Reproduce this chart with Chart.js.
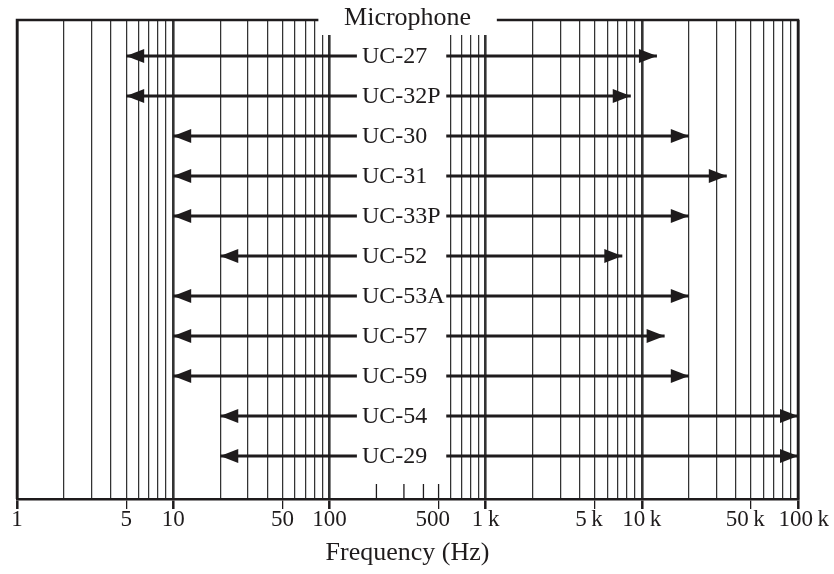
<!DOCTYPE html>
<html>
<head>
<meta charset="utf-8">
<script src="https://cdn.jsdelivr.net/npm/chart.js@4.4.1/dist/chart.umd.min.js"></script>
<style>
  html, body { margin: 0; padding: 0; background: #fff; }
  #wrap { width: 834px; height: 574px; }
</style>
</head>
<body>
<div id="wrap"><canvas id="micChart" width="834" height="574"></canvas></div>
<script>
// Microphone frequency ranges (Hz)
const micNames = ['UC-27', 'UC-32P', 'UC-30', 'UC-31', 'UC-33P', 'UC-52', 'UC-53A', 'UC-57', 'UC-59', 'UC-54', 'UC-29'];
const lowFreq  = [5, 5, 10, 10, 10, 20, 10, 10, 10, 20, 20];
const highFreq = [12500, 8500, 20000, 35000, 20000, 7500, 20000, 14000, 20000, 100000, 100000];

// Axis ticks
const gridValues = [];
[1, 10, 100, 1000, 10000].forEach(function (d) {
    for (let m = 1; m < 10; m++) gridValues.push(m * d);
});
gridValues.push(100000);
const labelValues = [1, 5, 10, 50, 100, 500, 1000, 5000, 10000, 50000, 100000];
// en spaces nudge a few labels off-centre like the original
const labelTexts  = ['1', '5', '10', '50', '100', '500\u2002', '1\u2009k', '5\u2009k\u2002', '10\u2009k', '50\u2009k\u2002', '\u2002100\u2009k'];
const shortTickValues = [200, 300, 400, 500]; // only short inner ticks here
const decadeValues = [1, 10, 100, 1000, 10000, 100000];

const ink = '#1e1b1c';
const serif = "'Liberation Serif', 'DejaVu Serif', serif";

function isDecade(v) { return decadeValues.indexOf(v) >= 0; }

// arrows, label boxes, frame and header
const micPlugin = {
    id: 'micPlugin',
    afterDatasetsDraw: function (chart) {
        const ctx = chart.ctx;
        const xs = chart.scales.x;
        const ys = chart.scales.y;
        const area = chart.chartArea;
        ctx.save();

        // short inner ticks in the label band
        ctx.strokeStyle = ink;
        ctx.lineWidth = 1.3;
        shortTickValues.forEach(function (v) {
            const px = xs.getPixelForValue(v);
            ctx.beginPath();
            ctx.moveTo(px, area.bottom);
            ctx.lineTo(px, area.bottom - 15);
            ctx.stroke();
        });

        // arrowheads
        ctx.fillStyle = ink;
        micNames.forEach(function (name, i) {
            const py = ys.getPixelForValue(i);
            const xl = xs.getPixelForValue(lowFreq[i]);
            const xh = xs.getPixelForValue(highFreq[i]);
            ctx.beginPath();
            ctx.moveTo(xl, py);
            ctx.lineTo(xl + 18, py - 7);
            ctx.lineTo(xl + 18, py + 7);
            ctx.closePath();
            ctx.fill();
            ctx.beginPath();
            ctx.moveTo(xh, py);
            ctx.lineTo(xh - 18, py - 7);
            ctx.lineTo(xh - 18, py + 7);
            ctx.closePath();
            ctx.fill();
        });

        // frame (left, top, right)
        ctx.strokeStyle = ink;
        ctx.lineWidth = 2.5;
        ctx.beginPath();
        ctx.moveTo(area.left, area.bottom);
        ctx.lineTo(area.left, area.top);
        ctx.lineTo(area.right, area.top);
        ctx.lineTo(area.right, area.bottom);
        ctx.stroke();

        // label band: break each arrow and write the name
        const gapL = xs.getPixelForValue(150);
        const gapR = xs.getPixelForValue(560);
        ctx.font = '24px ' + serif;
        ctx.textAlign = 'left';
        ctx.textBaseline = 'middle';
        micNames.forEach(function (name, i) {
            const py = ys.getPixelForValue(i);
            ctx.fillStyle = '#fff';
            ctx.fillRect(gapL, py - 5, gapR - gapL, 10);
            ctx.fillStyle = ink;
            ctx.fillText(name, gapL + 5, py + 1);
        });

        // header box
        const hl = xs.getPixelForValue(85);
        const hr = xs.getPixelForValue(1180);
        ctx.fillStyle = '#fff';
        ctx.fillRect(hl, 0, hr - hl, area.top + 15);
        ctx.fillStyle = ink;
        ctx.font = '26px ' + serif;
        ctx.textAlign = 'center';
        ctx.fillText('Microphone', (hl + hr) / 2, 18);

        ctx.restore();
    }
};

const datasets = micNames.map(function (name, i) {
    return {
        label: name,
        data: [{ x: lowFreq[i], y: i }, { x: highFreq[i], y: i }],
        borderColor: ink,
        borderWidth: 2.8,
        borderCapStyle: 'butt',
        pointRadius: 0,
        fill: false
    };
});

const ctx = document.getElementById('micChart').getContext('2d');
new Chart(ctx, {
    type: 'line',
    data: { datasets: datasets },
    plugins: [micPlugin],
    options: {
        responsive: false,
        animation: false,
        events: [],
        layout: { padding: { left: 17, right: 36, top: 20, bottom: 0 } },
        plugins: {
            legend: { display: false },
            tooltip: { enabled: false }
        },
        scales: {
            x: {
                type: 'logarithmic',
                min: 1,
                max: 100000,
                afterBuildTicks: function (scale) {
                    scale.ticks = gridValues.map(function (v) { return { value: v }; });
                },
                afterFit: function (scale) { scale.height = 75; },
                border: { display: true, color: ink, width: 2.5 },
                grid: {
                    drawOnChartArea: true,
                    color: function (c) {
                        const v = c.tick ? c.tick.value : 0;
                        return shortTickValues.indexOf(v) >= 0 ? 'rgba(0,0,0,0)' : '#333';
                    },
                    lineWidth: function (c) {
                        return c.tick && isDecade(c.tick.value) ? 2.6 : 1.25;
                    },
                    tickColor: function (c) {
                        return c.tick && labelValues.indexOf(c.tick.value) >= 0 ? ink : 'rgba(0,0,0,0)';
                    },
                    tickWidth: function (c) {
                        return c.tick && isDecade(c.tick.value) ? 2.5 : 1.3;
                    },
                    tickLength: 10
                },
                ticks: {
                    autoSkip: false,
                    maxRotation: 0,
                    padding: -3,
                    color: ink,
                    font: { family: serif, size: 23 },
                    callback: function (value) {
                        const k = labelValues.indexOf(value);
                        return k >= 0 ? labelTexts[k] : '';
                    }
                },
                title: {
                    display: true,
                    text: 'Frequency (Hz)',
                    color: ink,
                    font: { family: serif, size: 26 },
                    padding: { top: 0, bottom: 5 }
                }
            },
            y: {
                type: 'linear',
                display: false,
                reverse: true,
                min: -0.9,
                max: 11.075
            }
        }
    }
});
</script>
</body>
</html>
